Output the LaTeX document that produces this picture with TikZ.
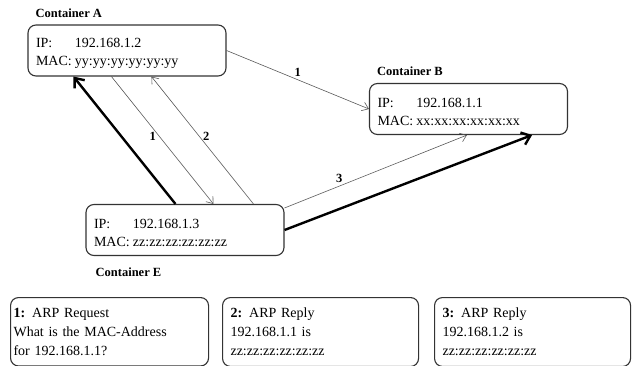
\documentclass[tikz,border=0pt]{standalone}
\usepackage{fontspec}
\setmainfont{Liberation Serif}
\usetikzlibrary{arrows.meta}

\begin{document}
\begin{tikzpicture}[x=1pt,y=-1pt,>={Straight Barb[length=6pt,width=9pt]},
  host node/.style={draw=black!80,line width=1.1pt,rounded corners=8pt,text width=182pt,
    inner xsep=8pt,minimum height=51pt,align=left,font=\fontsize{14}{18}\selectfont,
    execute at begin node=\rule{0pt}{15.5pt}},
  note node/.style={draw=black!80,line width=1.1pt,rounded corners=8pt,text width=180pt,
    inner xsep=8pt,inner ysep=10.5pt,anchor=north west,align=left,font=\fontsize{14}{19}\selectfont},
  box label/.style={anchor=base west,inner sep=0pt,font=\fontsize{12.5}{15}\selectfont\bfseries},
  msg/.style={->,draw=black!65,line width=0.6pt},
  reply/.style={->,line width=2.4pt,>={Straight Barb[length=8pt,width=13pt]}}]
  \useasboundingbox (0,0) rectangle (632,366);

  \node[host node] (A) at (127,50.5) {\makebox[39pt][l]{IP:}192.168.1.2\\\makebox[39pt][l]{MAC:}yy:yy:yy:yy:yy:yy};
  \node[host node] (B) at (468.5,109) {\makebox[39pt][l]{IP:}192.168.1.1\\\makebox[39pt][l]{MAC:}xx:xx:xx:xx:xx:xx};
  \node[host node] (E) at (185,230) {\makebox[39pt][l]{IP:}192.168.1.3\\\makebox[39pt][l]{MAC:}zz:zz:zz:zz:zz:zz};

  \node[box label] (labA) at ([xshift=8pt,yshift=7pt]A.north west) {Container A};
  \node[box label] (labB) at ([xshift=8pt,yshift=7pt]B.north west) {Container B};
  \node[box label] (labE) at ([xshift=10pt,yshift=-20pt]E.south west) {Container E};

  \node[note node,inner xsep=3pt,text width=192pt] (n1) at (10,297) {\textbf{1:} ARP Request\\What is the MAC-Address\\for 192.168.1.1?};
  \node[note node] (n2) at (222,297) {\textbf{2:} ARP Reply\\192.168.1.1 is\\zz:zz:zz:zz:zz:zz};
  \node[note node] (n3) at (434,297) {\textbf{3:} ARP Reply\\192.168.1.2 is\\zz:zz:zz:zz:zz:zz};

  \path[every node/.style={font=\fontsize{12.5}{15}\selectfont\bfseries}]
    (A.east) edge[msg] node[above] {1} (B.west)
    ([xshift=84pt]A.south west) edge[msg] node[left,pos=.47] {1} ([xshift=128pt]E.north west)
    ([xshift=168pt]E.north west) edge[msg] node[right,pos=.53] {2} ([xshift=124pt]A.south west)
    ([xshift=90pt]E.north west) edge[reply] ([xshift=46pt]A.south west)
    ([yshift=22pt]E.east) edge[msg] node[above,pos=.3] {3} ([xshift=98pt]B.south west)
    (E.east) edge[reply] ([xshift=-36pt]B.south east);
\end{tikzpicture}
\end{document}
